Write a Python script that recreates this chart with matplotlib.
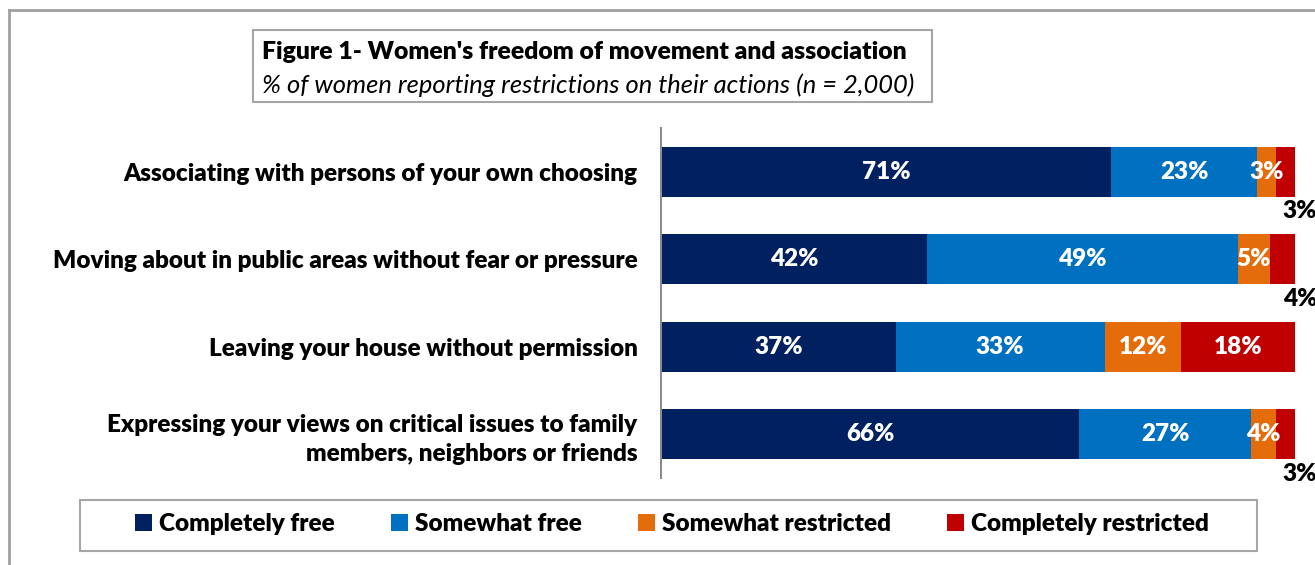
import matplotlib.pyplot as plt
from matplotlib.patches import Rectangle
from matplotlib.lines import Line2D

plt.rcParams['font.family'] = ['Lato', 'DejaVu Sans']

# Data
categories = [
    "Associating with persons of your own choosing",
    "Moving about in public areas without fear or pressure",
    "Leaving your house without permission",
    "Expressing your views on critical issues to family\nmembers, neighbors or friends",
]
series = ["Completely free", "Somewhat free", "Somewhat restricted", "Completely restricted"]
completely_free = [71, 42, 37, 66]
somewhat_free = [23, 49, 33, 27]
somewhat_restricted = [3, 5, 12, 4]
completely_restricted = [3, 4, 18, 3]
colors = ["#002060", "#0070C0", "#E46C0A", "#C00000"]

values = [completely_free, somewhat_free, somewhat_restricted, completely_restricted]
FS = 17.5
W = 'heavy'

fig = plt.figure(figsize=(13.15, 5.65), dpi=100)
ax = fig.add_axes([661 / 1315, 1 - 478 / 565, 634 / 1315, 350 / 565])

ypos = list(range(len(categories)))
left = [0] * len(categories)
for vals, name, col in zip(values, series, colors):
    ax.barh(ypos, vals, left=left, height=0.57, color=col, label=name)
    for i, (v, l) in enumerate(zip(vals, left)):
        if name == "Completely restricted" and v < 10:
            # small segments get their label outside, below the bar end
            ax.text(l + v + 0.8, i + 0.45, f"{v}%", ha='center', va='center',
                    color='black', fontsize=FS, fontweight=W, clip_on=False)
        else:
            ax.text(l + v / 2, i, f"{v}%", ha='center', va='center',
                    color='white', fontsize=FS, fontweight=W)
    left = [a + b for a, b in zip(left, vals)]

ax.set_xlim(0, 100)
ax.set_ylim(3.5, -0.5)
ax.set_xticks([])
ax.set_yticks(ypos)
ax.set_yticklabels(categories, fontsize=FS, fontweight=W, linespacing=1.4)
ax.tick_params(axis='y', length=0, pad=17)
for s in ['top', 'right', 'bottom']:
    ax.spines[s].set_visible(False)
ax.spines['left'].set_color('#8c8c8c')
ax.spines['left'].set_linewidth(1.5)

# outer frame
fig.add_artist(Line2D([9 / 1315, 9 / 1315], [0, 1 - 10 / 565], color='#a0a0a0', lw=2))
fig.add_artist(Line2D([9 / 1315, 1], [1 - 10 / 565, 1 - 10 / 565], color='#a0a0a0', lw=2))

# title box
fig.add_artist(Rectangle((253 / 1315, 1 - 102 / 565), 679 / 1315, 72 / 565,
                         fill=False, edgecolor='#a6a6a6', lw=1.5))
fig.text(262 / 1315, 1 - 52 / 565, "Figure 1- Women's freedom of movement and association",
         fontsize=17.8, fontweight=W, va='center')
fig.text(262 / 1315, 1 - 85 / 565, "% of women reporting restrictions on their actions (n = 2,000)",
         fontsize=18.4, style='italic', va='center')

# legend box
fig.add_artist(Rectangle((80 / 1315, 1 - 551 / 565), 1177 / 1315, 51 / 565,
                         fill=False, edgecolor='#a6a6a6', lw=1.5))
handles, labels = ax.get_legend_handles_labels()
fig.legend(handles, labels, loc='center', bbox_to_anchor=(672 / 1315, 1 - 524 / 565),
           ncol=4, frameon=False, handlelength=0.7, handleheight=0.7,
           handletextpad=0.3, columnspacing=2.3,
           prop={'size': FS, 'weight': W})

fig.savefig("out.png", dpi=100)
